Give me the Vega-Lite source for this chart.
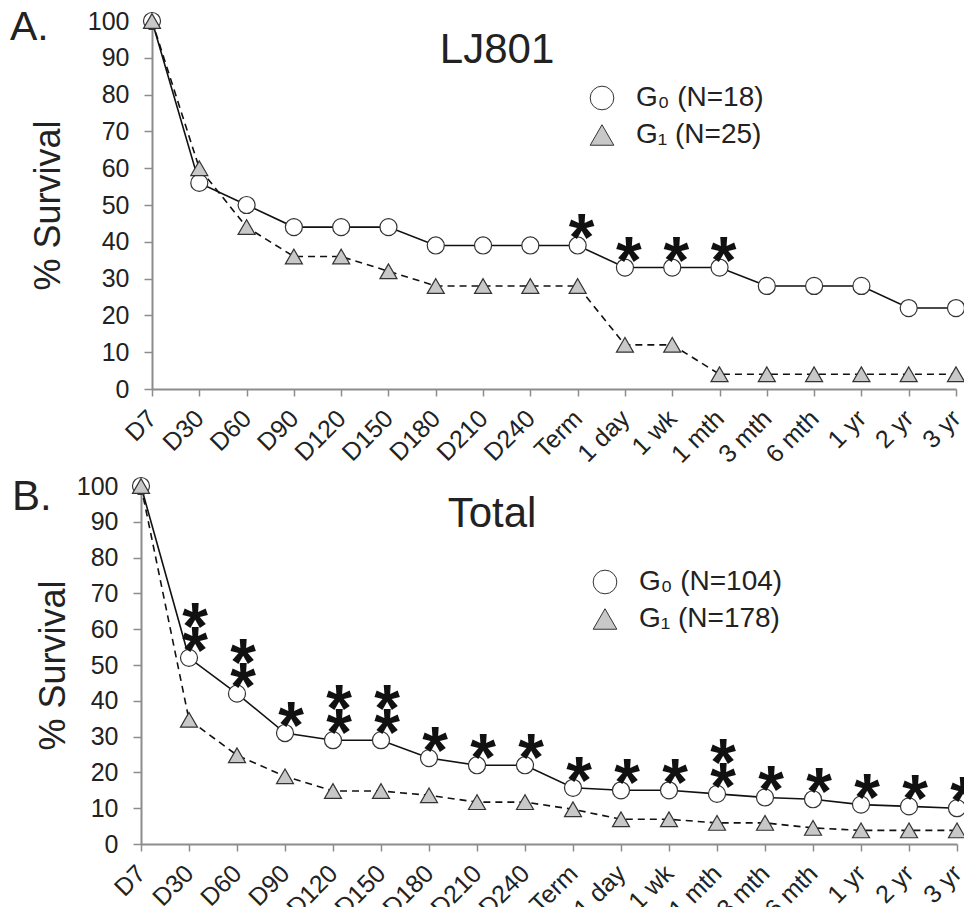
{
  "$schema": "https://vega.github.io/schema/vega-lite/v6.json",
  "padding": {"left": 10, "top": 7, "right": 0, "bottom": 5},
  "background": "white",
  "config": {
    "font": "Liberation Sans",
    "view": {"stroke": null},
    "axis": {"domainColor": "#8c8c8c", "domainWidth": 2, "tickColor": "#8c8c8c", "tickWidth": 1.5, "labelColor": "#222", "titleColor": "#222", "grid": false, "labelFontSize": 25, "titleFontWeight": "normal", "titleFontSize": 36, "labelFont": "Liberation Sans", "titleFont": "Liberation Sans", "labelOverlap": false},
    "axisX": {"labelAngle": -45, "labelBaseline": "middle", "labelAlign": "right", "tickSize": 7, "labelPadding": 18},
    "legend": {"labelFontSize": 28, "labelColor": "#222", "labelFont": "Liberation Sans", "symbolSize": 560, "symbolStrokeWidth": 1, "labelOffset": 20, "rowPadding": 9}
  },
  "datasets": {
    "A": [
      {"t": "D7", "g": "G₀ (N=18)", "v": 100}, {"t": "D30", "g": "G₀ (N=18)", "v": 56}, {"t": "D60", "g": "G₀ (N=18)", "v": 50}, {"t": "D90", "g": "G₀ (N=18)", "v": 44}, {"t": "D120", "g": "G₀ (N=18)", "v": 44}, {"t": "D150", "g": "G₀ (N=18)", "v": 44}, {"t": "D180", "g": "G₀ (N=18)", "v": 39}, {"t": "D210", "g": "G₀ (N=18)", "v": 39}, {"t": "D240", "g": "G₀ (N=18)", "v": 39}, {"t": "Term", "g": "G₀ (N=18)", "v": 39}, {"t": "1 day", "g": "G₀ (N=18)", "v": 33}, {"t": "1 wk", "g": "G₀ (N=18)", "v": 33}, {"t": "1 mth", "g": "G₀ (N=18)", "v": 33}, {"t": "3 mth", "g": "G₀ (N=18)", "v": 28}, {"t": "6 mth", "g": "G₀ (N=18)", "v": 28}, {"t": "1 yr", "g": "G₀ (N=18)", "v": 28}, {"t": "2 yr", "g": "G₀ (N=18)", "v": 22}, {"t": "3 yr", "g": "G₀ (N=18)", "v": 22},
      {"t": "D7", "g": "G₁ (N=25)", "v": 100}, {"t": "D30", "g": "G₁ (N=25)", "v": 60}, {"t": "D60", "g": "G₁ (N=25)", "v": 44}, {"t": "D90", "g": "G₁ (N=25)", "v": 36}, {"t": "D120", "g": "G₁ (N=25)", "v": 36}, {"t": "D150", "g": "G₁ (N=25)", "v": 32}, {"t": "D180", "g": "G₁ (N=25)", "v": 28}, {"t": "D210", "g": "G₁ (N=25)", "v": 28}, {"t": "D240", "g": "G₁ (N=25)", "v": 28}, {"t": "Term", "g": "G₁ (N=25)", "v": 28}, {"t": "1 day", "g": "G₁ (N=25)", "v": 12}, {"t": "1 wk", "g": "G₁ (N=25)", "v": 12}, {"t": "1 mth", "g": "G₁ (N=25)", "v": 4}, {"t": "3 mth", "g": "G₁ (N=25)", "v": 4}, {"t": "6 mth", "g": "G₁ (N=25)", "v": 4}, {"t": "1 yr", "g": "G₁ (N=25)", "v": 4}, {"t": "2 yr", "g": "G₁ (N=25)", "v": 4}, {"t": "3 yr", "g": "G₁ (N=25)", "v": 4}
    ],
    "B": [
      {"t": "D7", "g": "G₀ (N=104)", "v": 100}, {"t": "D30", "g": "G₀ (N=104)", "v": 52}, {"t": "D60", "g": "G₀ (N=104)", "v": 42}, {"t": "D90", "g": "G₀ (N=104)", "v": 31}, {"t": "D120", "g": "G₀ (N=104)", "v": 29}, {"t": "D150", "g": "G₀ (N=104)", "v": 29}, {"t": "D180", "g": "G₀ (N=104)", "v": 24}, {"t": "D210", "g": "G₀ (N=104)", "v": 22}, {"t": "D240", "g": "G₀ (N=104)", "v": 22}, {"t": "Term", "g": "G₀ (N=104)", "v": 15.7}, {"t": "1 day", "g": "G₀ (N=104)", "v": 15}, {"t": "1 wk", "g": "G₀ (N=104)", "v": 15}, {"t": "1 mth", "g": "G₀ (N=104)", "v": 14}, {"t": "3 mth", "g": "G₀ (N=104)", "v": 13}, {"t": "6 mth", "g": "G₀ (N=104)", "v": 12.5}, {"t": "1 yr", "g": "G₀ (N=104)", "v": 11}, {"t": "2 yr", "g": "G₀ (N=104)", "v": 10.5}, {"t": "3 yr", "g": "G₀ (N=104)", "v": 10},
      {"t": "D7", "g": "G₁ (N=178)", "v": 100}, {"t": "D30", "g": "G₁ (N=178)", "v": 34.7}, {"t": "D60", "g": "G₁ (N=178)", "v": 24.8}, {"t": "D90", "g": "G₁ (N=178)", "v": 18.9}, {"t": "D120", "g": "G₁ (N=178)", "v": 14.8}, {"t": "D150", "g": "G₁ (N=178)", "v": 14.8}, {"t": "D180", "g": "G₁ (N=178)", "v": 13.6}, {"t": "D210", "g": "G₁ (N=178)", "v": 11.7}, {"t": "D240", "g": "G₁ (N=178)", "v": 11.7}, {"t": "Term", "g": "G₁ (N=178)", "v": 9.7}, {"t": "1 day", "g": "G₁ (N=178)", "v": 6.9}, {"t": "1 wk", "g": "G₁ (N=178)", "v": 6.9}, {"t": "1 mth", "g": "G₁ (N=178)", "v": 5.9}, {"t": "3 mth", "g": "G₁ (N=178)", "v": 5.9}, {"t": "6 mth", "g": "G₁ (N=178)", "v": 4.5}, {"t": "1 yr", "g": "G₁ (N=178)", "v": 3.8}, {"t": "2 yr", "g": "G₁ (N=178)", "v": 3.8}, {"t": "3 yr", "g": "G₁ (N=178)", "v": 3.8}
    ],
    "SA": [
      {"t": "Term", "v": 39, "s": "*"}, {"t": "1 day", "v": 33, "s": "*"}, {"t": "1 wk", "v": 33, "s": "*"}, {"t": "1 mth", "v": 33, "s": "*"}
    ],
    "SB": [
      {"t": "D30", "v": 52, "s": "*\n*"}, {"t": "D60", "v": 42, "s": "*\n*"}, {"t": "D90", "v": 31, "s": "*"}, {"t": "D120", "v": 29, "s": "*\n*"}, {"t": "D150", "v": 29, "s": "*\n*"}, {"t": "D180", "v": 24, "s": "*"}, {"t": "D210", "v": 22, "s": "*"}, {"t": "D240", "v": 22, "s": "*"}, {"t": "Term", "v": 15.7, "s": "*"}, {"t": "1 day", "v": 15, "s": "*"}, {"t": "1 wk", "v": 15, "s": "*"}, {"t": "1 mth", "v": 14, "s": "*\n*"}, {"t": "3 mth", "v": 13, "s": "*"}, {"t": "6 mth", "v": 12.5, "s": "*"}, {"t": "1 yr", "v": 11, "s": "*"}, {"t": "2 yr", "v": 10.5, "s": "*"}, {"t": "3 yr", "v": 10, "s": "*"}
    ]
  },
  "spacing": 6,
  "resolve": {"scale": {"x": "independent", "y": "independent", "shape": "independent", "fill": "independent"}, "legend": {"shape": "independent", "fill": "independent"}},
  "vconcat": [
    {
      "width": 816,
      "height": 368,
      "layer": [
        {
          "data": {"name": "A"},
          "transform": [{"filter": "datum.g === 'G₀ (N=18)'"}],
          "mark": {"type": "line", "color": "#111", "strokeWidth": 1.6},
          "encoding": {
            "x": {"field": "t", "type": "ordinal", "scale": {"type": "point", "padding": 0, "range": [11, 815], "domain": ["D7","D30","D60","D90","D120","D150","D180","D210","D240","Term","1 day","1 wk","1 mth","3 mth","6 mth","1 yr","2 yr","3 yr"]}, "axis": {"title": null}},
            "y": {"field": "v", "type": "quantitative", "scale": {"domain": [0, 100], "nice": false}, "axis": {"title": "% Survival", "values": [0,10,20,30,40,50,60,70,80,90,100], "tickSize": 8, "labelPadding": 15, "titlePadding": 20, "offset": -11}}
          }
        },
        {
          "data": {"name": "A"},
          "transform": [{"filter": "datum.g === 'G₁ (N=25)'"}],
          "mark": {"type": "line", "color": "#111", "strokeWidth": 1.6, "strokeDash": [7, 5]},
          "encoding": {
            "x": {"field": "t", "type": "ordinal", "scale": {"type": "point", "padding": 0, "range": [11, 815], "domain": ["D7","D30","D60","D90","D120","D150","D180","D210","D240","Term","1 day","1 wk","1 mth","3 mth","6 mth","1 yr","2 yr","3 yr"]}, "axis": {"title": null}},
            "y": {"field": "v", "type": "quantitative", "scale": {"domain": [0, 100], "nice": false}, "axis": {"title": "% Survival", "values": [0,10,20,30,40,50,60,70,80,90,100], "tickSize": 8, "labelPadding": 15, "titlePadding": 20, "offset": -11}}
          }
        },
        {
          "data": {"name": "A"},
          "mark": {"type": "point", "filled": true, "stroke": "#333", "strokeWidth": 1.2, "opacity": 1, "size": 290},
          "encoding": {
            "x": {"field": "t", "type": "ordinal", "scale": {"type": "point", "padding": 0, "range": [11, 815], "domain": ["D7","D30","D60","D90","D120","D150","D180","D210","D240","Term","1 day","1 wk","1 mth","3 mth","6 mth","1 yr","2 yr","3 yr"]}, "axis": {"title": null}},
            "y": {"field": "v", "type": "quantitative", "scale": {"domain": [0, 100], "nice": false}, "axis": {"title": "% Survival", "values": [0,10,20,30,40,50,60,70,80,90,100], "tickSize": 8, "labelPadding": 15, "titlePadding": 20, "offset": -11}},
            "shape": {"field": "g", "type": "nominal", "scale": {"domain": ["G₀ (N=18)", "G₁ (N=25)"], "range": ["circle", "triangle-up"]}, "legend": {"title": null, "orient": "none", "legendX": 447, "legendY": 63}},
            "fill": {"field": "g", "type": "nominal", "scale": {"domain": ["G₀ (N=18)", "G₁ (N=25)"], "range": ["#ffffff", "#c8c8c8"]}, "legend": {"title": null, "orient": "none", "legendX": 447, "legendY": 63}}
          }
        },
        {
          "data": {"name": "SA"},
          "mark": {"type": "text", "font": "Liberation Sans", "fontWeight": "bold", "fontSize": 66, "lineHeight": -24, "lineBreak": "\n", "baseline": "bottom", "dx": 4, "dy": 29, "color": "#111"},
          "encoding": {
            "x": {"field": "t", "type": "ordinal", "scale": {"type": "point", "padding": 0, "range": [11, 815], "domain": ["D7","D30","D60","D90","D120","D150","D180","D210","D240","Term","1 day","1 wk","1 mth","3 mth","6 mth","1 yr","2 yr","3 yr"]}, "axis": {"title": null}},
            "y": {"field": "v", "type": "quantitative", "scale": {"domain": [0, 100], "nice": false}, "axis": {"title": "% Survival", "values": [0,10,20,30,40,50,60,70,80,90,100], "tickSize": 8, "labelPadding": 15, "titlePadding": 20, "offset": -11}},
            "text": {"field": "s"}
          }
        },
        {
          "data": {"values": [{"label": "LJ801"}]},
          "mark": {"type": "text", "fontSize": 42, "color": "#222", "align": "center", "baseline": "alphabetic", "dx": 14},
          "encoding": {
            "x": {"datum": "D210", "type": "ordinal", "scale": {"type": "point", "padding": 0, "range": [11, 815], "domain": ["D7","D30","D60","D90","D120","D150","D180","D210","D240","Term","1 day","1 wk","1 mth","3 mth","6 mth","1 yr","2 yr","3 yr"]}, "axis": {"title": null}},
            "y": {"datum": 88.6, "type": "quantitative", "scale": {"domain": [0, 100], "nice": false}, "axis": {"title": "% Survival", "values": [0,10,20,30,40,50,60,70,80,90,100], "tickSize": 8, "labelPadding": 15, "titlePadding": 20, "offset": -11}},
            "text": {"field": "label"}
          }
        },
        {
          "data": {"values": [{"label": "A."}]},
          "mark": {"type": "text", "fontSize": 41, "color": "#222", "align": "left", "baseline": "alphabetic", "dx": -142, "dy": 19},
          "encoding": {
            "x": {"datum": "D7", "type": "ordinal", "scale": {"type": "point", "padding": 0, "range": [11, 815], "domain": ["D7","D30","D60","D90","D120","D150","D180","D210","D240","Term","1 day","1 wk","1 mth","3 mth","6 mth","1 yr","2 yr","3 yr"]}, "axis": {"title": null}},
            "y": {"datum": 100, "type": "quantitative", "scale": {"domain": [0, 100], "nice": false}, "axis": {"title": "% Survival", "values": [0,10,20,30,40,50,60,70,80,90,100], "tickSize": 8, "labelPadding": 15, "titlePadding": 20, "offset": -11}},
            "text": {"field": "label"}
          }
        }
      ]
    },
    {
      "width": 816,
      "height": 358,
      "layer": [
        {
          "data": {"name": "B"},
          "transform": [{"filter": "datum.g === 'G₀ (N=104)'"}],
          "mark": {"type": "line", "color": "#111", "strokeWidth": 1.6},
          "encoding": {
            "x": {"field": "t", "type": "ordinal", "scale": {"type": "point", "padding": 0, "domain": ["D7","D30","D60","D90","D120","D150","D180","D210","D240","Term","1 day","1 wk","1 mth","3 mth","6 mth","1 yr","2 yr","3 yr"]}, "axis": {"title": null}},
            "y": {"field": "v", "type": "quantitative", "scale": {"domain": [0, 100], "nice": false}, "axis": {"title": "% Survival", "values": [0,10,20,30,40,50,60,70,80,90,100], "tickSize": 8, "labelPadding": 15, "titlePadding": 4}}
          }
        },
        {
          "data": {"name": "B"},
          "transform": [{"filter": "datum.g === 'G₁ (N=178)'"}],
          "mark": {"type": "line", "color": "#111", "strokeWidth": 1.6, "strokeDash": [7, 5]},
          "encoding": {
            "x": {"field": "t", "type": "ordinal", "scale": {"type": "point", "padding": 0, "domain": ["D7","D30","D60","D90","D120","D150","D180","D210","D240","Term","1 day","1 wk","1 mth","3 mth","6 mth","1 yr","2 yr","3 yr"]}, "axis": {"title": null}},
            "y": {"field": "v", "type": "quantitative", "scale": {"domain": [0, 100], "nice": false}, "axis": {"title": "% Survival", "values": [0,10,20,30,40,50,60,70,80,90,100], "tickSize": 8, "labelPadding": 15, "titlePadding": 4}}
          }
        },
        {
          "data": {"name": "B"},
          "mark": {"type": "point", "filled": true, "stroke": "#333", "strokeWidth": 1.2, "opacity": 1, "size": 290},
          "encoding": {
            "x": {"field": "t", "type": "ordinal", "scale": {"type": "point", "padding": 0, "domain": ["D7","D30","D60","D90","D120","D150","D180","D210","D240","Term","1 day","1 wk","1 mth","3 mth","6 mth","1 yr","2 yr","3 yr"]}, "axis": {"title": null}},
            "y": {"field": "v", "type": "quantitative", "scale": {"domain": [0, 100], "nice": false}, "axis": {"title": "% Survival", "values": [0,10,20,30,40,50,60,70,80,90,100], "tickSize": 8, "labelPadding": 15, "titlePadding": 4}},
            "shape": {"field": "g", "type": "nominal", "scale": {"domain": ["G₀ (N=104)", "G₁ (N=178)"], "range": ["circle", "triangle-up"]}, "legend": {"title": null, "orient": "none", "legendX": 450, "legendY": 82}},
            "fill": {"field": "g", "type": "nominal", "scale": {"domain": ["G₀ (N=104)", "G₁ (N=178)"], "range": ["#ffffff", "#c8c8c8"]}, "legend": {"title": null, "orient": "none", "legendX": 450, "legendY": 82}}
          }
        },
        {
          "data": {"name": "SB"},
          "mark": {"type": "text", "font": "Liberation Sans", "fontWeight": "bold", "fontSize": 66, "lineHeight": -24, "lineBreak": "\n", "baseline": "bottom", "dx": 6, "dy": 29, "color": "#111"},
          "encoding": {
            "x": {"field": "t", "type": "ordinal", "scale": {"type": "point", "padding": 0, "domain": ["D7","D30","D60","D90","D120","D150","D180","D210","D240","Term","1 day","1 wk","1 mth","3 mth","6 mth","1 yr","2 yr","3 yr"]}, "axis": {"title": null}},
            "y": {"field": "v", "type": "quantitative", "scale": {"domain": [0, 100], "nice": false}, "axis": {"title": "% Survival", "values": [0,10,20,30,40,50,60,70,80,90,100], "tickSize": 8, "labelPadding": 15, "titlePadding": 4}},
            "text": {"field": "s"}
          }
        },
        {
          "data": {"values": [{"label": "Total"}]},
          "mark": {"type": "text", "fontSize": 42, "color": "#222", "align": "center", "baseline": "alphabetic", "dx": 15},
          "encoding": {
            "x": {"datum": "D210", "type": "ordinal", "scale": {"type": "point", "padding": 0, "domain": ["D7","D30","D60","D90","D120","D150","D180","D210","D240","Term","1 day","1 wk","1 mth","3 mth","6 mth","1 yr","2 yr","3 yr"]}, "axis": {"title": null}},
            "y": {"datum": 88.5, "type": "quantitative", "scale": {"domain": [0, 100], "nice": false}, "axis": {"title": "% Survival", "values": [0,10,20,30,40,50,60,70,80,90,100], "tickSize": 8, "labelPadding": 15, "titlePadding": 4}},
            "text": {"field": "label"}
          }
        },
        {
          "data": {"values": [{"label": "B."}]},
          "mark": {"type": "text", "fontSize": 42, "color": "#222", "align": "left", "baseline": "alphabetic", "dx": -129, "dy": 24},
          "encoding": {
            "x": {"datum": "D7", "type": "ordinal", "scale": {"type": "point", "padding": 0, "domain": ["D7","D30","D60","D90","D120","D150","D180","D210","D240","Term","1 day","1 wk","1 mth","3 mth","6 mth","1 yr","2 yr","3 yr"]}, "axis": {"title": null}},
            "y": {"datum": 100, "type": "quantitative", "scale": {"domain": [0, 100], "nice": false}, "axis": {"title": "% Survival", "values": [0,10,20,30,40,50,60,70,80,90,100], "tickSize": 8, "labelPadding": 15, "titlePadding": 4}},
            "text": {"field": "label"}
          }
        }
      ]
    }
  ]
}
